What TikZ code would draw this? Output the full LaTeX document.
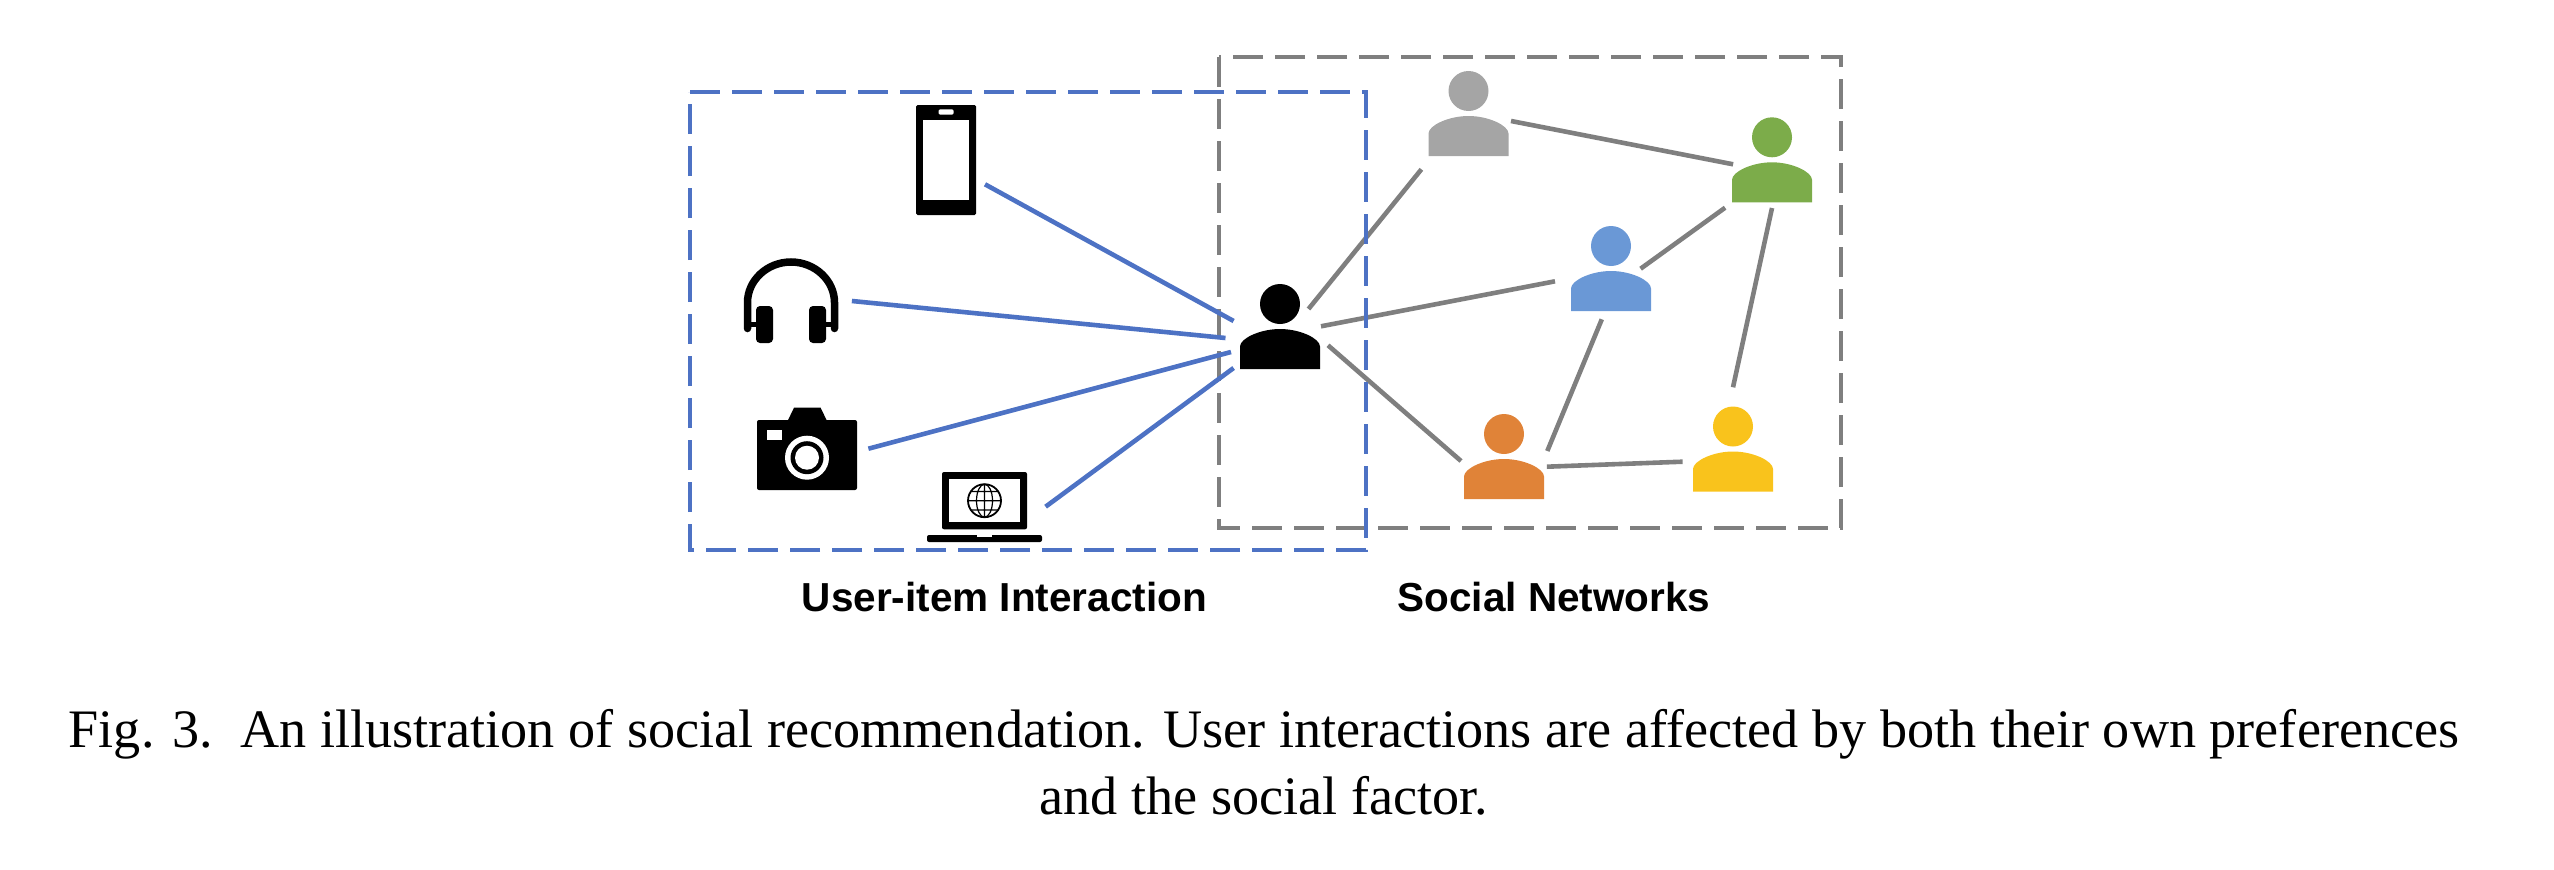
\documentclass[tikz,border=0pt]{standalone}
\usepackage{fontspec}
\setmainfont{Liberation Serif}
\newfontfamily\labelfont{Liberation Sans}
\usetikzlibrary{positioning}
\definecolor{linkblue}{RGB}{77,114,196}
\definecolor{linkgray}{RGB}{127,127,127}
\definecolor{usrgray}{RGB}{165,165,165}
\definecolor{usrgreen}{RGB}{124,172,74}
\definecolor{usrblue}{RGB}{106,152,214}
\definecolor{usrorange}{RGB}{224,131,56}
\definecolor{usryellow}{RGB}{249,195,28}

\begin{document}
\begin{tikzpicture}[
    x=1pt, y=-1pt,
    on grid,
    person/.style={minimum width=80pt, minimum height=85pt, inner sep=0pt,
      path picture={\fill[#1, shift={(path picture bounding box.center)}]
        (0,-22.5) circle[radius=20]
        (-40,42.5) -- (-40,20) .. controls (-40,12) and (-20,2.5) .. (0,2.5)
        .. controls (20,2.5) and (40,12) .. (40,20) -- (40,42.5) -- cycle;}},
    phoneicon/.style={minimum width=60pt, minimum height=110pt, inner sep=0pt,
      path picture={\begin{scope}[shift={(path picture bounding box.center)}]
        \fill[black, rounded corners=1.5pt] (-30,-55) rectangle (30,55);
        \fill[white] (-22.7,-40) rectangle (22.8,40);
        \fill[white, rounded corners=2pt] (-7.5,-50.7) rectangle (7.7,-45.3);
      \end{scope}}},
    phonesicon/.style={minimum width=96pt, minimum height=86pt, inner sep=0pt,
      path picture={\begin{scope}[shift={(path picture bounding box.center)}]
        \draw[line width=7.5pt, line cap=round] (-43.5,28) -- (-43.5,2)
          .. controls (-43.5,-20) and (-24,-38.5) .. (0,-38.5)
          .. controls (24,-38.5) and (43.5,-20) .. (43.5,2) -- (43.5,28);
        \fill[black] (-44,21.5) rectangle (44,26);
        \fill[white] (-18,18) rectangle (18,30);
        \fill[black, rounded corners=4pt] (-35,5.5) rectangle (-18,42.5);
        \fill[black, rounded corners=4pt] (18,5.5) rectangle (35,42.5);
      \end{scope}}},
    cameraicon/.style={minimum width=100pt, minimum height=83pt, inner sep=0pt,
      path picture={\begin{scope}[shift={(path picture bounding box.center)}]
        \fill[black, rounded corners=2pt] (-50,-29) rectangle (50,41);
        \fill[black] (-19.4,-28) -- (-13,-41.3) -- (13.6,-41.3) -- (20,-28) -- cycle;
        \fill[white] (0,8.7) circle[radius=22];
        \fill[black] (0,8.7) circle[radius=16.5];
        \fill[white] (0,8.7) circle[radius=12];
        \fill[white] (-40,-19) rectangle (-25,-9);
      \end{scope}}},
    laptopicon/.style={minimum width=115pt, minimum height=70pt, inner sep=0pt,
      path picture={\begin{scope}[shift={(path picture bounding box.center)}]
        \fill[black, rounded corners=2pt] (-42.5,-35) rectangle (42.5,22.3);
        \fill[white] (-35.5,-27.7) rectangle (35.5,15);
        \draw[line width=1.8pt] (0,-6.3) circle[radius=16.5];
        \draw[line width=1.2pt] (0,-6.3) ellipse[x radius=8, y radius=16.5]
          (0,-22.8) -- (0,10.2) (-16.5,-6.3) -- (16.5,-6.3)
          (-14,-15.5) -- (14,-15.5) (-14,2.9) -- (14,2.9);
        \fill[black, rounded corners=2pt] (-57.5,28) rectangle (57.5,35);
        \fill[white] (-7.5,28) rectangle (7.5,30.3);
      \end{scope}}},
    itemlink/.style={draw=linkblue, line width=4.6pt},
    userlink/.style={draw=linkgray, line width=4.6pt},
    dashbox/.style={draw=#1, line width=3.6pt, dash pattern=on 30pt off 12pt},
    grouplabel/.style={font=\labelfont\bfseries\fontsize{40.5}{46}\selectfont}
]
\useasboundingbox (0,0) rectangle (2554,870);

% Social network frame
\draw[dashbox=linkgray] (1219,57) |- (1841,528) |- cycle;

% Users
\node[person=black] (usr) at (1280,326.5) {};
\node[person=usrgray, above right=213pt and 188.5pt of usr] (gry) {};
\node[person=usrgreen, above right=166.7pt and 492pt of usr] (grn) {};
\node[person=usrblue, above right=58pt and 331pt of usr] (blu) {};
\node[person=usrorange, below right=130pt and 224pt of usr] (org) {};
\node[person=usryellow, below right=122.5pt and 453pt of usr] (ylw) {};

% Items
\node[phoneicon, above left=166.5pt and 334pt of usr] (phone) {};
\node[phonesicon, above left=26pt and 489pt of usr] (headset) {};
\node[cameraicon, below left=122.5pt and 473pt of usr] (camera) {};
\node[laptopicon, below left=180.5pt and 295.5pt of usr] (laptop) {};

% Social links
\draw[userlink] ([shift={(28.5,-17.5)}]usr.center) -- ([shift={(-47.1,55.8)}]gry.center);
\draw[userlink] ([shift={(41,-0.2)}]usr.center) -- ([shift={(-56,12.8)}]blu.center);
\draw[userlink] ([shift={(48,18.8)}]usr.center) -- ([shift={(-43,4.5)}]org.center);
\draw[userlink] ([shift={(42.5,7.5)}]gry.center) -- ([shift={(-38.9,4.5)}]grn.center);
\draw[userlink] ([shift={(29.6,0.2)}]blu.center) -- ([shift={(-46.9,47.9)}]grn.center);
\draw[userlink] ([shift={(-9.2,50.8)}]blu.center) -- ([shift={(43.3,-5.5)}]org.center);
\draw[userlink] ([shift={(0,48.2)}]grn.center) -- ([shift={(0,-61.7)}]ylw.center);
\draw[userlink] ([shift={(42.9,10.2)}]org.center) -- ([shift={(-50.4,12.7)}]ylw.center);

% Interaction links
\draw[itemlink] ([shift={(39,24.3)}]phone.center) -- ([shift={(-46.4,-5.5)}]usr.center);
\draw[itemlink] ([shift={(60.9,0.5)}]headset.center) -- ([shift={(-54.5,11.5)}]usr.center);
\draw[itemlink] ([shift={(61.4,-0.3)}]camera.center) -- ([shift={(-49,25.5)}]usr.center);
\draw[itemlink] ([shift={(61.1,-0.3)}]laptop.center) -- ([shift={(-46.4,41.5)}]usr.center);

% Interaction frame
\draw[dashbox=linkblue] (690,92) -| (1366,550) -| cycle;

% Labels
\node[grouplabel] (itemlabel) at (1004.5,597) {User-item Interaction};
\node[grouplabel] (netlabel) at (1554,597) {Social Networks};
\node[font=\fontsize{54.2}{67}\selectfont, align=center] (caption) at (1264,762)
  {Fig. 3.\ \ An illustration of social recommendation. User interactions are affected by both their own preferences\\
   and the social factor.};
\end{tikzpicture}
\end{document}
